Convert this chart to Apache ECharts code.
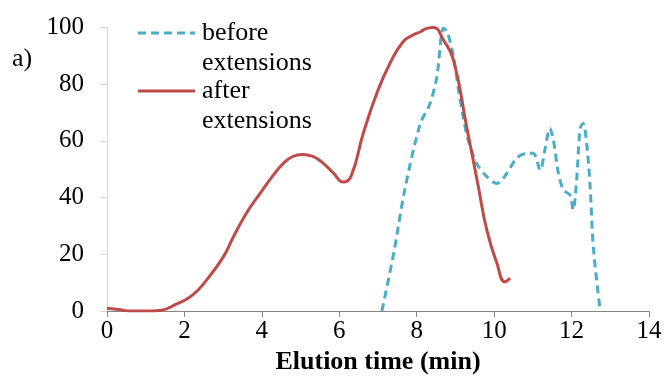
<!DOCTYPE html>
<html>
<head>
<meta charset="utf-8">
<script src="https://cdn.jsdelivr.net/npm/echarts@6/dist/echarts.min.js"></script>
<style>html,body{margin:0;padding:0;background:#fff}#c{width:665px;height:376px}</style>
</head>
<body>
<div id="c"></div>
<script>
var xTicks = [0, 2, 4, 6, 8, 10, 12, 14];
var yTicks = [0, 20, 40, 60, 80, 100];

var afterTime =   [0, 0.3, 0.6, 1.0, 1.4, 1.8, 2.2, 2.57, 3.0, 3.26, 3.6, 4.02, 4.3, 4.55, 4.8, 5.05, 5.3, 5.55, 5.85, 6.1, 6.3, 6.62, 6.97, 7.31, 7.65, 7.91, 8.1, 8.26, 8.43, 8.69, 8.95, 9.29, 9.59, 9.81, 10.07, 10.28, 10.41];
var afterSignal = [1, 0.5, 0, 0, 0.3, 2.5, 5.5, 10.9, 19, 26, 34.5, 42.7, 48, 52, 54.5, 55.2, 54.6, 52.5, 48.6, 45.5, 47.4, 62.7, 76.8, 87.4, 95, 97.4, 98.5, 99.7, 100, 95.6, 88.5, 65, 44, 28.6, 16.9, 10.3, 11.6];

var beforeTime =   [7.1, 7.4, 7.7, 8.09, 8.34, 8.52, 8.69, 8.79, 8.95, 9.08, 9.2, 9.33, 9.55, 9.81, 10.07, 10.33, 10.58, 10.84, 11.01, 11.19, 11.31, 11.44, 11.53, 11.66, 11.79, 11.96, 12.04, 12.13, 12.22, 12.3, 12.39, 12.48, 12.56, 12.74];
var beforeSignal = [0, 20, 43.4, 66, 73, 82.6, 99.7, 98.5, 89.7, 78, 68.5, 60.3, 52, 47.4, 45, 48.6, 53.9, 55.6, 55.6, 49.7, 56.8, 64.4, 60.3, 48.6, 42.7, 40.9, 35.6, 46, 64.4, 66.2, 59.2, 43.8, 22.7, 0];

var seriesNames = ['before\nextensions', 'after\nextensions'];
var xName = 'Elution time (min)';
var panelLabel = 'a)';

function pairs(xs, ys) { return xs.map(function (x, i) { return [x, ys[i]]; }); }

var FONT = 'Liberation Serif';
var BLUE = '#4BACC6', RED = '#BE4B48';
var txt = { fontFamily: FONT, fontSize: 26, fontWeight: 'normal', color: '#000', lineHeight: 30 };

var chart = echarts.init(document.getElementById('c'));
chart.setOption({
  animation: false,
  backgroundColor: '#fff',
  title: [
    { text: panelLabel, left: 12, top: 44, padding: 0, textStyle: txt },
    { text: seriesNames[0], left: 202, top: 18, padding: 0, textStyle: txt },
    { text: seriesNames[1], left: 202, top: 76, padding: 0, textStyle: txt }
  ],
  grid: { left: 107, right: 16, top: 27.5, bottom: 65, outerBoundsMode: 'none' },
  xAxis: {
    type: 'value', min: xTicks[0], max: xTicks[xTicks.length - 1], interval: 2,
    name: xName, nameLocation: 'middle', nameGap: 38,
    nameTextStyle: { fontFamily: FONT, fontSize: 26, fontWeight: 'bold', color: '#000' },
    axisLine: { lineStyle: { color: '#868686', width: 1 } },
    axisTick: { show: true, length: 6, lineStyle: { color: '#868686' } },
    axisLabel: { fontFamily: FONT, fontSize: 25, color: '#000', margin: 8 },
    splitLine: { show: false }
  },
  yAxis: {
    type: 'value', min: yTicks[0], max: yTicks[yTicks.length - 1], interval: 20,
    axisLine: { show: true, lineStyle: { color: '#D9D9D9', width: 1 } },
    axisTick: { show: true, length: 7, lineStyle: { color: '#D9D9D9' } },
    axisLabel: { fontFamily: FONT, fontSize: 25, color: '#000', margin: 23 },
    splitLine: { show: false }
  },
  series: [
    {
      name: seriesNames[0], type: 'line', data: pairs(beforeTime, beforeSignal),
      showSymbol: false, smooth: 0.3, z: 2,
      lineStyle: { color: BLUE, width: 3, type: [8, 5] }
    },
    {
      name: seriesNames[1], type: 'line', data: pairs(afterTime, afterSignal),
      showSymbol: false, smooth: 0.5, z: 3,
      lineStyle: { color: RED, width: 3 }
    }
  ],
  graphic: [
    { type: 'line', shape: { x1: 138, y1: 33, x2: 195, y2: 33 }, style: { stroke: BLUE, lineWidth: 3, lineDash: [8, 5] } },
    { type: 'line', shape: { x1: 138, y1: 91, x2: 195, y2: 91 }, style: { stroke: RED, lineWidth: 3 } }
  ]
});
</script>
</body>
</html>
